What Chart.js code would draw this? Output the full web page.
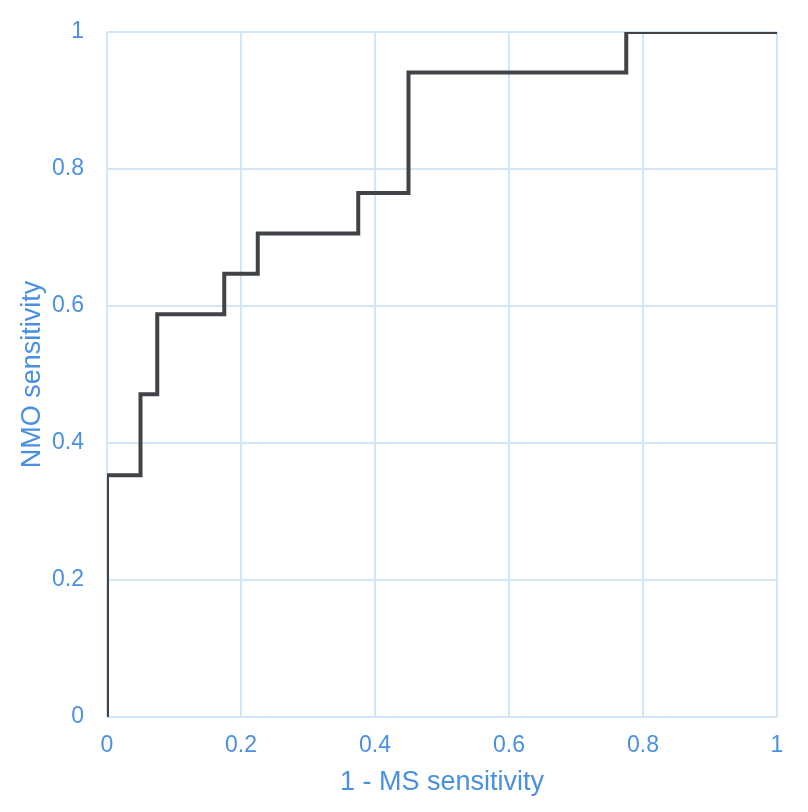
<!DOCTYPE html>
<html>
<head>
<meta charset="utf-8">
<script src="https://cdn.jsdelivr.net/npm/chart.js@4"></script>
<style>
  html, body { margin: 0; padding: 0; background: #ffffff; }
  #wrap { width: 808px; height: 812px; }
</style>
</head>
<body>
<div id="wrap"><canvas id="c" width="808" height="812"></canvas></div>
<script>
// ROC curve: 1 - MS sensitivity (x) vs NMO sensitivity (y)
const fpr = [0, 0, 0.05, 0.075, 0.175, 0.225, 0.375, 0.45, 0.775, 1];
const tpr = [0, 0.353, 0.471, 0.588, 0.647, 0.706, 0.765, 0.941, 1, 1];
const xTicks = [0, 0.2, 0.4, 0.6, 0.8, 1];
const yTicks = [0, 0.2, 0.4, 0.6, 0.8, 1];

const blue = '#4a90e2';
const gridColor = '#d3e6f7';
const fontFamily = '"Liberation Sans", Arial, Helvetica, sans-serif';

const points = fpr.map((x, i) => ({ x: x, y: tpr[i] }));

new Chart(document.getElementById('c'), {
  type: 'line',
  data: {
    datasets: [{
      data: points,
      stepped: 'before',
      borderColor: '#404348',
      borderWidth: 4,
      pointRadius: 0,
      fill: false,
      clip: 0
    }]
  },
  options: {
    responsive: false,
    animation: false,
    devicePixelRatio: 1,
    layout: { padding: { top: 32, right: 31, left: 0, bottom: 0 } },
    plugins: { legend: { display: false }, tooltip: { enabled: false } },
    scales: {
      x: {
        type: 'linear',
        min: 0, max: 1,
        afterBuildTicks: s => { s.ticks = xTicks.map(v => ({ value: v })); },
        afterFit: s => { s.height = 95; s.paddingLeft = 0; s.paddingRight = 0; },
        grid: { color: gridColor, lineWidth: 2, drawTicks: false },
        border: { display: false },
        ticks: {
          color: blue, padding: 15,
          font: { family: fontFamily, size: 23 },
          maxRotation: 0,
          callback: v => String(Math.round(v * 10) / 10)
        },
        title: {
          display: true, text: '1 - MS sensitivity', color: blue,
          font: { family: fontFamily, size: 27 },
          padding: { top: 0, bottom: 13 }
        }
      },
      y: {
        type: 'linear',
        min: 0, max: 1,
        afterBuildTicks: s => { s.ticks = yTicks.map(v => ({ value: v })); },
        afterFit: s => { s.width = 107; s.paddingTop = 0; s.paddingBottom = 0; },
        grid: { color: gridColor, lineWidth: 2, drawTicks: false },
        border: { display: false },
        ticks: {
          color: blue, padding: 23,
          font: { family: fontFamily, size: 23 },
          callback: v => String(Math.round(v * 10) / 10)
        },
        title: {
          display: true, text: 'NMO sensitivity', color: blue,
          font: { family: fontFamily, size: 27 },
          padding: { top: 16, bottom: 0 }
        }
      }
    }
  }
});
</script>
</body>
</html>
